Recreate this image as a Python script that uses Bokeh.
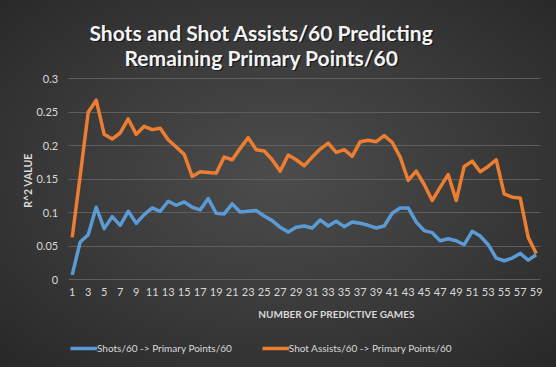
from bokeh.plotting import figure
from bokeh.models import FixedTicker, NumeralTickFormatter, Label, Legend, LegendItem, ColumnDataSource
from bokeh.embed import file_html
from bokeh.resources import INLINE
import math

games = list(range(1, 60))
shots = [0.007, 0.056, 0.067, 0.108, 0.076, 0.094, 0.081, 0.102, 0.084, 0.097,
         0.107, 0.102, 0.117, 0.111, 0.116, 0.108, 0.104, 0.121, 0.099, 0.098,
         0.113, 0.101, 0.102, 0.103, 0.095, 0.088, 0.078, 0.071, 0.078, 0.080,
         0.077, 0.089, 0.080, 0.087, 0.079, 0.086, 0.084, 0.081, 0.077, 0.080,
         0.099, 0.107, 0.107, 0.086, 0.073, 0.070, 0.058, 0.061, 0.058, 0.052,
         0.072, 0.065, 0.052, 0.032, 0.028, 0.032, 0.039, 0.029, 0.037]
assists = [0.063, 0.155, 0.250, 0.268, 0.217, 0.210, 0.219, 0.240, 0.217, 0.229,
           0.224, 0.226, 0.209, 0.198, 0.187, 0.154, 0.161, 0.160, 0.159, 0.183,
           0.179, 0.196, 0.212, 0.194, 0.192, 0.179, 0.162, 0.186, 0.179, 0.170,
           0.183, 0.195, 0.204, 0.190, 0.194, 0.184, 0.206, 0.208, 0.206, 0.215,
           0.205, 0.183, 0.148, 0.162, 0.142, 0.118, 0.138, 0.157, 0.118, 0.169,
           0.177, 0.161, 0.169, 0.179, 0.128, 0.123, 0.122, 0.063, 0.039]
y_ticks = [0, 0.05, 0.1, 0.15, 0.2, 0.25, 0.3]
x_ticks = list(range(1, 60, 2))

title_lines = ["Shots and Shot Assists/60 Predicting", "Remaining Primary Points/60"]
x_title = "NUMBER OF PREDICTIVE GAMES"
y_title = "R^2 VALUE"
series_names = ["Shots/60 -> Primary Points/60", "Shot Assists/60 -> Primary Points/60"]

BLUE = "#5B9BD5"
ORANGE = "#ED7D31"
TXT = "#d9d9d9"
FONT = "Lato"

W, H = 556, 367
# plot-area geometry in canvas pixels
X_FIRST, PX_PER_GAME = 71.7, 8.0      # centre of game 1, spacing of games
Y_ZERO, PX_PER_UNIT = 279.0, 669.0    # pixel row of 0, pixels per R^2 unit


def gx(px):
    return games[0] + (px - X_FIRST) / PX_PER_GAME


def vy(py):
    return (Y_ZERO - py) / PX_PER_UNIT


p = figure(width=W, height=H, output_backend="svg", toolbar_location=None, title=None,
           x_range=(gx(0), gx(W)), y_range=(vy(H), vy(0)),
           min_border_left=0, min_border_right=0, min_border_top=0, min_border_bottom=0,
           styles={"position": "absolute", "left": "0px", "top": "0px",
                   "background": "radial-gradient(ellipse 75% 75% at 50% 48%, #4c4c4c 0%, #3c3c3c 45%, #262626 100%)"})
p.background_fill_color = None
p.border_fill_color = None
p.outline_line_color = None

x_lo, x_hi = games[0] - 0.5, games[-1] + 0.5

# grid lines only across the plot area
p.xgrid.visible = False
grid_ok = False
try:
    p.ygrid[0].cross_bounds = (x_lo, x_hi)
    grid_ok = True
except Exception:
    grid_ok = False
if grid_ok:
    p.ygrid.grid_line_color = "#5e5e5e"
    p.ygrid.grid_line_width = 1
    p.ygrid.ticker = FixedTicker(ticks=y_ticks)
else:
    p.ygrid.visible = False
    p.segment(x0=[x_lo] * len(y_ticks), x1=[x_hi] * len(y_ticks), y0=y_ticks, y1=y_ticks,
              line_color="#5e5e5e", line_width=1)

src = ColumnDataSource(dict(g=games, s=shots, a=assists))
r1 = p.line("g", "s", source=src, line_color=BLUE, line_width=3.5, line_join="round")
r2 = p.line("g", "a", source=src, line_color=ORANGE, line_width=3.5, line_join="round")

p.yaxis.ticker = FixedTicker(ticks=y_ticks)
p.xaxis.ticker = FixedTicker(ticks=x_ticks)
p.yaxis.formatter = NumeralTickFormatter(format="0.[00]")
p.yaxis.fixed_location = x_lo
p.xaxis.fixed_location = 0
for ax in (p.xaxis, p.yaxis):
    ax.axis_line_color = None
    ax.major_tick_line_color = None
    ax.minor_tick_line_color = None
    ax.major_tick_out = 0
    ax.major_tick_in = 0
    ax.major_label_text_color = TXT
    ax.major_label_text_font = FONT
    ax.major_label_text_font_size = "11px"
p.yaxis.major_label_standoff = 10
p.xaxis.major_label_standoff = 8


def lab(text, px, py, size, color, baseline, angle=0.0, shadow=False):
    kw = dict(text=text, text_font=FONT, text_font_size=size, text_font_style="bold",
              text_align="center", text_baseline=baseline, angle=angle)
    if shadow:
        p.add_layout(Label(x=gx(px), y=vy(py), x_offset=1.5, y_offset=-1.5,
                           text_color="#0d0d0d", text_alpha=0.7, **kw))
    p.add_layout(Label(x=gx(px), y=vy(py), text_color=color, **kw))


lab(title_lines[0], 261, 31.7, "21px", "#f4f4f4", "alphabetic", shadow=True)
lab(title_lines[1], 261, 56.7, "21px", "#f4f4f4", "alphabetic", shadow=True)
lab(x_title, 336, 313, "10px", TXT, "middle")
lab(y_title, 27.5, 180, "10.5px", TXT, "middle", angle=math.pi / 2)

legend = Legend(items=[LegendItem(label=series_names[0], renderers=[r1]),
                       LegendItem(label=series_names[1], renderers=[r2])],
                orientation="horizontal", location=(70, 13),
                background_fill_alpha=0, border_line_color=None,
                padding=0, margin=0, spacing=30, label_standoff=0,
                glyph_width=27, glyph_height=12, label_height=12,
                label_text_font=FONT, label_text_font_size="10px", label_text_color=TXT)
p.add_layout(legend, "center")

open("out.html", "w").write(file_html(p, INLINE))
